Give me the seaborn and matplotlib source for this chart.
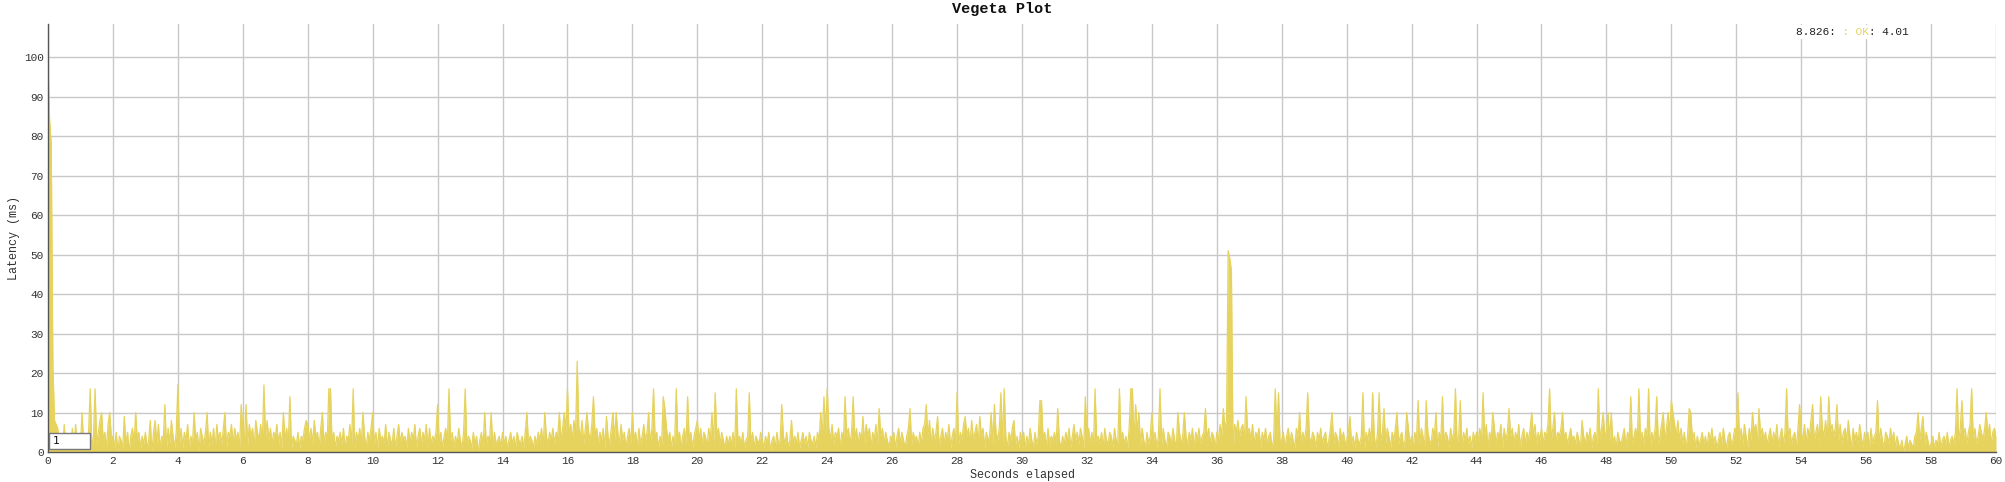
import numpy as np
import pandas as pd
import matplotlib
matplotlib.use("Agg")
import matplotlib.pyplot as plt
from matplotlib.patches import Rectangle
import seaborn as sns

# latency in ms, 20 samples per second
latency_00s = [
    98, 84, 78, 22, 8, 7, 6, 2, 1, 1, 7, 1, 1, 2, 1, 6, 1, 7, 1, 2,
    2, 10, 1, 4, 0, 5, 16, 1, 4, 16, 2, 5, 8, 10, 3, 5, 1, 7, 10, 4,
    4, 1, 5, 0, 4, 3, 1, 9, 2, 5, 0, 4, 6, 2, 10, 3, 5, 1, 4, 2,
    5, 1, 3, 8, 0, 5, 8, 2, 7, 1, 4, 3, 12, 1, 6, 2, 8, 4, 1, 5,
    17, 2, 6, 1, 5, 3, 7, 1, 4, 2, 10, 3, 5, 0, 6, 4, 2, 5, 10, 1,
    5, 2, 6, 1, 7, 3, 5, 2, 6, 10, 1, 5, 4, 7, 2, 6, 3, 5, 1, 12,
    6, 3, 12, 2, 7, 4, 6, 1, 8, 5, 3, 7, 2, 17, 4, 8, 3, 6, 2, 5,
    4, 7, 2, 5, 1, 10, 3, 6, 2, 14, 1, 4, 3, 2, 5, 1, 4, 3, 6, 8,
    7, 3, 6, 2, 8, 4, 5, 1, 6, 10, 2, 5, 3, 16, 16, 2, 5, 1, 4, 3,
    5, 2, 6, 1, 4, 3, 7, 2, 16, 1, 5, 3, 6, 2, 10, 4, 1, 5, 3, 6,
]
latency_10s = [
    10, 2, 5, 1, 6, 3, 4, 2, 7, 1, 5, 3, 2, 6, 1, 4, 7, 2, 5, 3,
    4, 1, 6, 2, 5, 3, 7, 1, 4, 6, 2, 5, 3, 7, 1, 6, 2, 4, 3, 5,
    12, 2, 5, 1, 4, 6, 2, 16, 3, 5, 1, 4, 2, 6, 3, 1, 5, 16, 2, 4,
    3, 1, 5, 2, 4, 0, 3, 5, 1, 10, 2, 4, 3, 10, 1, 5, 2, 3, 4, 1,
    5, 2, 4, 1, 3, 5, 2, 4, 1, 5, 3, 2, 4, 1, 5, 10, 2, 4, 3, 1,
    4, 2, 5, 3, 6, 1, 10, 4, 2, 5, 3, 6, 2, 5, 4, 10, 3, 6, 10, 5,
    16, 4, 7, 3, 8, 5, 23, 6, 4, 8, 2, 6, 10, 5, 3, 7, 14, 4, 6, 2,
    5, 3, 6, 1, 9, 4, 2, 6, 10, 3, 10, 5, 2, 7, 3, 5, 1, 4, 6, 2,
    10, 3, 5, 1, 6, 2, 4, 7, 3, 5, 10, 2, 6, 16, 3, 5, 1, 4, 2, 14,
    11, 6, 3, 5, 1, 4, 2, 16, 3, 5, 1, 4, 6, 2, 14, 3, 5, 1, 4, 6,
]
latency_20s = [
    8, 3, 6, 2, 5, 4, 1, 6, 3, 10, 2, 15, 4, 6, 2, 5, 3, 1, 4, 2,
    4, 2, 5, 1, 16, 3, 4, 2, 5, 1, 3, 4, 15, 2, 5, 1, 4, 3, 2, 5,
    3, 1, 4, 2, 5, 0, 3, 4, 1, 5, 2, 3, 12, 4, 2, 5, 1, 3, 8, 2,
    4, 2, 5, 1, 3, 5, 2, 4, 1, 5, 3, 2, 4, 1, 5, 3, 10, 4, 14, 5,
    16, 6, 3, 7, 2, 5, 4, 6, 1, 5, 3, 14, 4, 6, 2, 5, 14, 3, 6, 2,
    5, 3, 9, 2, 7, 4, 6, 1, 5, 3, 7, 2, 11, 4, 6, 2, 5, 3, 1, 4,
    3, 5, 1, 4, 6, 2, 5, 3, 1, 4, 6, 11, 2, 5, 3, 4, 1, 5, 2, 6,
    7, 12, 4, 8, 2, 6, 3, 5, 9, 1, 4, 6, 2, 5, 3, 7, 1, 4, 6, 2,
    15, 2, 5, 3, 7, 9, 4, 6, 2, 8, 3, 5, 7, 2, 9, 4, 6, 1, 5, 3,
    4, 10, 2, 12, 5, 3, 6, 15, 2, 16, 4, 1, 5, 3, 6, 8, 2, 4, 1, 5,
]
latency_30s = [
    3, 5, 1, 4, 2, 6, 3, 1, 5, 2, 4, 13, 13, 3, 5, 1, 6, 2, 4, 3,
    5, 2, 11, 3, 1, 4, 2, 5, 3, 6, 1, 4, 7, 3, 5, 2, 6, 4, 1, 14,
    4, 6, 2, 5, 1, 16, 3, 4, 2, 5, 1, 6, 3, 2, 5, 4, 1, 6, 3, 2,
    16, 3, 5, 2, 4, 1, 6, 16, 16, 3, 12, 5, 10, 2, 6, 3, 1, 5, 2, 4,
    10, 3, 5, 1, 4, 16, 2, 6, 3, 1, 5, 4, 2, 6, 3, 1, 10, 5, 2, 4,
    10, 4, 2, 5, 3, 6, 1, 5, 3, 6, 2, 4, 5, 11, 3, 6, 2, 5, 4, 1,
    5, 3, 7, 4, 11, 6, 8, 51, 49, 46, 0, 7, 5, 8, 4, 6, 7, 3, 14, 5,
    6, 3, 7, 2, 5, 4, 6, 1, 5, 3, 6, 2, 4, 5, 1, 3, 16, 4, 15, 2,
    3, 5, 1, 4, 6, 2, 5, 3, 1, 6, 4, 10, 2, 5, 3, 6, 15, 4, 2, 5,
    4, 1, 5, 3, 6, 2, 4, 5, 1, 3, 6, 10, 2, 5, 4, 1, 6, 3, 5, 2,
]
latency_40s = [
    3, 5, 9, 2, 4, 1, 5, 3, 2, 4, 15, 1, 5, 3, 6, 2, 15, 4, 1, 5,
    15, 3, 5, 11, 2, 6, 4, 1, 5, 3, 6, 10, 2, 4, 5, 1, 3, 10, 6, 2,
    4, 1, 5, 3, 13, 2, 6, 4, 1, 13, 5, 3, 2, 6, 4, 10, 1, 5, 3, 14,
    2, 5, 4, 1, 6, 3, 5, 16, 2, 4, 13, 1, 5, 3, 6, 2, 4, 1, 5, 3,
    5, 3, 6, 2, 15, 4, 7, 1, 5, 3, 10, 6, 2, 5, 4, 7, 1, 6, 3, 5,
    11, 4, 6, 2, 5, 3, 7, 1, 4, 6, 2, 5, 3, 6, 10, 4, 7, 2, 5, 3,
    6, 2, 5, 4, 7, 16, 3, 6, 10, 2, 5, 4, 6, 10, 3, 5, 2, 4, 6, 3,
    4, 2, 5, 3, 1, 8, 4, 2, 5, 3, 6, 1, 4, 5, 2, 16, 3, 6, 10, 4,
    5, 10, 3, 10, 2, 4, 1, 5, 3, 2, 4, 6, 1, 5, 3, 14, 2, 4, 6, 3,
    16, 3, 5, 2, 6, 4, 16, 1, 5, 3, 6, 14, 2, 4, 7, 10, 3, 6, 10, 5,
]
latency_50s = [
    13, 10, 7, 4, 8, 3, 6, 2, 5, 1, 4, 11, 10, 3, 5, 1, 4, 2, 3, 5,
    2, 4, 1, 5, 3, 6, 2, 4, 1, 3, 5, 2, 6, 3, 1, 4, 5, 2, 3, 6,
    5, 15, 3, 6, 2, 7, 4, 1, 6, 3, 10, 5, 7, 2, 11, 4, 6, 3, 5, 2,
    4, 6, 2, 5, 3, 7, 1, 4, 6, 2, 5, 16, 3, 6, 2, 4, 5, 1, 6, 12,
    5, 3, 7, 2, 6, 4, 8, 12, 3, 5, 7, 2, 14, 6, 4, 8, 3, 14, 5, 7,
    4, 6, 12, 3, 7, 2, 5, 6, 3, 8, 4, 1, 6, 3, 5, 2, 7, 4, 1, 5,
    3, 5, 1, 6, 2, 4, 5, 13, 2, 6, 3, 1, 5, 4, 2, 6, 3, 5, 1, 4,
    2, 1, 3, 0, 2, 4, 1, 3, 2, 1, 4, 5, 10, 3, 6, 9, 2, 5, 3, 1,
    2, 4, 1, 3, 2, 5, 1, 3, 4, 2, 5, 1, 3, 4, 2, 5, 16, 3, 6, 13,
    4, 6, 2, 5, 7, 16, 3, 6, 2, 4, 7, 5, 3, 6, 10, 4, 7, 2, 5, 6,
    4,
]
samples_per_second = 20

x_ticks = list(range(0, 61, 2))
y_ticks = list(range(0, 101, 10))

latency = latency_00s + latency_10s + latency_20s + latency_30s + latency_40s + latency_50s
df = pd.DataFrame({
    "seconds": np.arange(len(latency)) / samples_per_second,
    "latency": latency,
})

sns.set_theme(style="whitegrid")
plt.rcParams["font.family"] = ["Liberation Mono", "DejaVu Sans Mono"]

line_color = "#e6d35e"
text_color = "#333333"

fig = plt.figure(figsize=(20.05, 4.82), dpi=100)
ax = fig.add_axes([48 / 2005, 1 - 452 / 482, 1948 / 2005, 428 / 482])

ax.fill_between(df["seconds"], 0, df["latency"], color=line_color, linewidth=0)
sns.lineplot(data=df, x="seconds", y="latency", ax=ax, color=line_color,
             linewidth=0.9, estimator=None)

ax.set_xlim(0, 60)
ax.set_ylim(0, 108.4)
ax.set_xticks(x_ticks)
ax.set_yticks(y_ticks)
ax.grid(True, color="#c8c8c8", linewidth=1)
ax.set_axisbelow(True)
for side in ["top", "right"]:
    ax.spines[side].set_visible(False)
for side in ["left", "bottom"]:
    ax.spines[side].set_color("#555555")
    ax.spines[side].set_linewidth(1)
ax.tick_params(axis="both", labelsize=8, colors=text_color, length=0, pad=3)

ax.set_xlabel("Seconds elapsed", fontsize=8.5, color=text_color, labelpad=2)
ax.set_ylabel("Latency (ms)", fontsize=8.5, color=text_color, labelpad=3)
fig.text(0.5, 1 - 9 / 482, "Vegeta Plot", ha="center", va="center",
         fontsize=11, fontweight="bold", color="#111111")

# legend readout (top right), monospace so segments line up
lx, ly = 1796 / 2005, 1 - 32 / 482
fig.text(lx, ly, "8.826:     : 4.01", fontsize=8, color="#222222", va="center",
         bbox=dict(facecolor="white", edgecolor="none", pad=1.5))
fig.text(lx, ly, "       : OK      ", fontsize=8, color=line_color, va="center")

# roll period box at bottom left
fig.patches.append(Rectangle((49 / 2005, 1 - 449 / 482), 41 / 2005, 16 / 482,
                             transform=fig.transFigure, facecolor="white",
                             edgecolor="#777777", linewidth=1))
fig.text(53 / 2005, 1 - 441 / 482, "1", fontsize=8, color="#111111",
         va="center", family=["DejaVu Sans"])

plt.savefig("out.png", dpi=100)
plt.close()
